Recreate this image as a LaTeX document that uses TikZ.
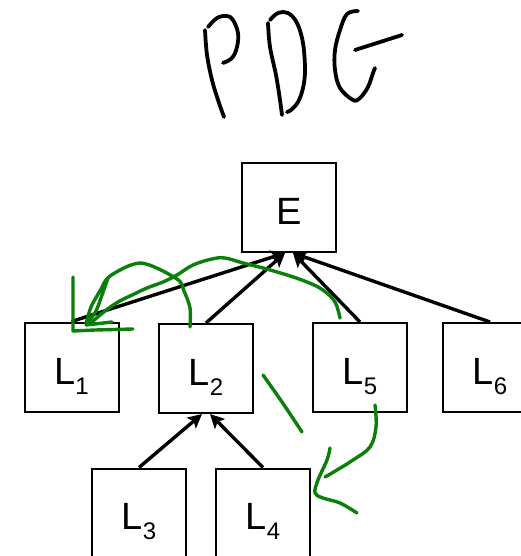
\documentclass[tikz,border=0pt]{standalone}
\usepackage{fontspec}
\setmainfont{Liberation Sans}
\usetikzlibrary{arrows.meta,calc}

\definecolor{ink}{RGB}{0,0,0}
\definecolor{pen}{RGB}{10,128,10}

\newcommand{\labsub}[2]{#1\raisebox{-10pt}{\fontsize{24pt}{24pt}\selectfont #2}}

\tikzset{
  box/.style={draw=ink, line width=2pt, minimum width=94pt, minimum height=89pt, inner sep=0pt, fill=white},
  boxlabel/.style={anchor=base, inner sep=0pt, font=\fontsize{38pt}{38pt}\selectfont},
  dep/.style={draw=ink, line width=3.4pt, -{Stealth[length=14pt,width=14pt,inset=3pt]}},
  scribble/.style={draw=ink, line width=3.8pt, line cap=round, line join=round},
  penstroke/.style={draw=pen, line width=3.4pt, line cap=round, line join=round},
}

\begin{document}
\begin{tikzpicture}[x=1pt,y=-1pt]
  \clip (0,0) rectangle (521,556);
  \fill[white] (0,0) rectangle (521,556);

  % handwritten title
  \draw[scribble] plot[smooth, tension=0.6] coordinates {(205,30) (207,55) (212,80) (218,100) (224,117)};
  \draw[scribble] plot[smooth, tension=0.6] coordinates {(208,27) (217,18) (227,16) (233,20) (238,33) (237,47) (232,58) (223,63)};
  \draw[scribble] plot[smooth, tension=0.6] coordinates {(268,23) (270,47) (276,75) (280,100) (282,115)};
  \draw[scribble] plot[smooth, tension=0.6] coordinates {(270,20) (278,13) (288,13) (297,23) (303,43) (305,70) (303,88) (298,102) (291,110) (287,112)};
  \draw[scribble] plot[smooth, tension=0.6] coordinates {(358,11) (347,14) (340,30) (335,50) (335,70) (340,88) (353,100) (360,98) (368,87) (373,73) (375,68)};
  \draw[scribble] plot[smooth, tension=0.6] coordinates {(355,50) (377,43) (402,35)};

  % program dependence graph
  \node[box] (E)  at (289,207.5) {};
  \node[box] (L1) at (71.5,367) {};
  \node[box] (L2) at (206,368.5) {};
  \node[box] (L5) at (360,367.5) {};
  \node[box] (L6) at (490,367.5) {};
  \node[box] (L3) at (139,513) {};
  \node[box] (L4) at (263,513) {};

  \node[boxlabel] (tE)  at ($(E.north)+(0,62)$)  {E};
  \node[boxlabel] (tL1) at ($(L1.north)+(0,63)$) {\labsub{L}{1}};
  \node[boxlabel] (tL2) at ($(L2.north)+(0,62)$) {\labsub{L}{2}};
  \node[boxlabel] (tL5) at ($(L5.north)+(0,62)$) {\labsub{L}{5}};
  \node[boxlabel] (tL6) at ($(L6.north)+(0,62)$) {\labsub{L}{6}};
  \node[boxlabel] (tL3) at ($(L3.north)+(0,62)$) {\labsub{L}{3}};
  \node[boxlabel] (tL4) at ($(L4.north)+(0,62)$) {\labsub{L}{4}};

  \draw[dep] (L1.north) -- ([xshift=-4pt]E.south);
  \draw[dep] (L2.north) -- ([xshift=-4pt]E.south);
  \draw[dep] (L5.north) -- ([xshift=4pt]E.south);
  \draw[dep] (L6.north) -- ([xshift=4pt]E.south);
  \draw[dep] (L3.north) -- ([xshift=-4pt]L2.south);
  \draw[dep] (L4.north) -- ([xshift=4pt]L2.south);

  % green pen annotations
  \draw[penstroke] plot[smooth, tension=0.5] coordinates {(190,327) (190,308) (184,291) (177,279) (141,263) (110,276) (100,291) (91,307) (86,324)};
  \draw[penstroke] plot[smooth, tension=0.5] coordinates {(88,322) (96,311) (102,295) (108,278)};
  \draw[penstroke] plot[smooth, tension=0.6] coordinates {(340,318) (335,302) (323,290) (307,282) (287,275) (263,268) (243,263) (225,258) (212,259) (193,265) (177,275) (163,282) (147,288) (130,296) (118,302) (105,311) (92,322)};
  \draw[penstroke] (73,277) -- (73,331) -- (95,330) -- (133,329);
  \draw[penstroke] (86,325) -- (112,322);
  \draw[penstroke] plot[smooth, tension=0.5] coordinates {(263,375) (282,402) (302,432)};
  \draw[penstroke] plot[smooth, tension=0.6] coordinates {(375,405) (376,427) (370,447) (353,460) (337,470) (325,477)};
  \draw[penstroke] plot[smooth, tension=0.6] coordinates {(330,448) (327,460) (318,480) (315,493) (323,498) (340,503) (357,513)};
\end{tikzpicture}
\end{document}
